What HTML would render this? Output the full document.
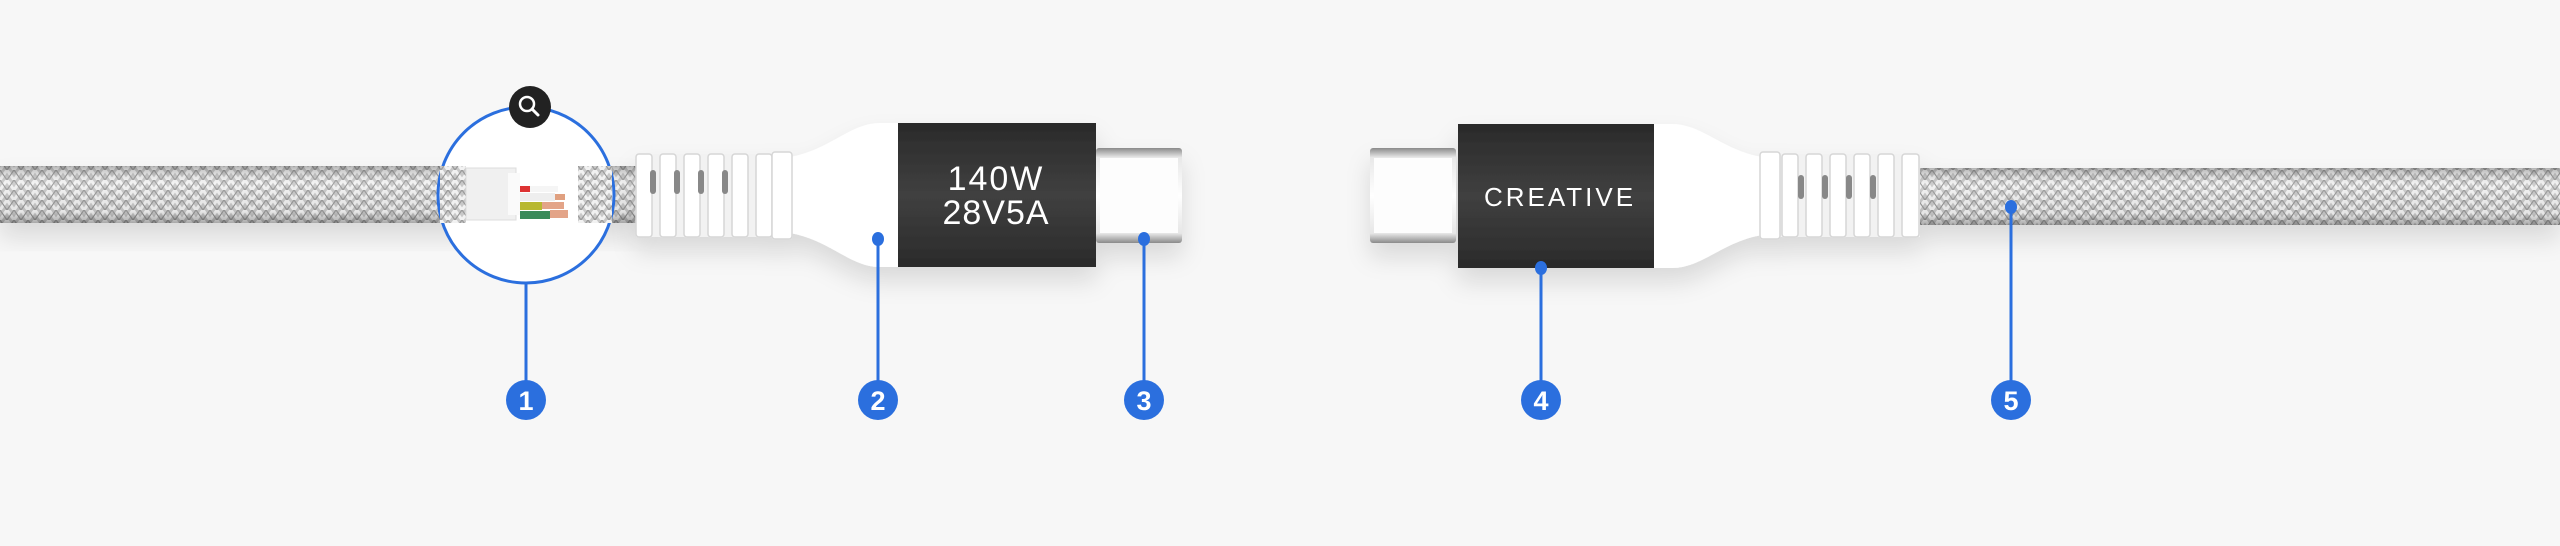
<!DOCTYPE html>
<html><head><meta charset="utf-8"><style>
html,body{margin:0;padding:0;background:#f7f7f7;}
svg{display:block}
</style></head><body>
<svg width="2560" height="546" viewBox="0 0 2560 546" xmlns="http://www.w3.org/2000/svg">
<defs>
<pattern id="braid" width="14" height="10" patternUnits="userSpaceOnUse">
<rect width="14" height="10" fill="#c8c8c8"/>
<path d="M0 10 L7 0 L14 10" stroke="#f2f2f2" stroke-width="3" fill="none"/>
<path d="M0 0 L7 10 L14 0" stroke="#999" stroke-width="1.2" fill="none"/>
</pattern>
<linearGradient id="cab" x1="0" y1="0" x2="0" y2="1">
<stop offset="0" stop-color="#000" stop-opacity="0.25"/>
<stop offset="0.3" stop-color="#fff" stop-opacity="0.1"/>
<stop offset="0.8" stop-color="#000" stop-opacity="0.05"/>
<stop offset="1" stop-color="#000" stop-opacity="0.3"/>
</linearGradient>
<linearGradient id="blk" x1="0" y1="0" x2="0" y2="1">
<stop offset="0" stop-color="#2a2a2a"/><stop offset="0.5" stop-color="#404040"/><stop offset="1" stop-color="#2a2a2a"/>
</linearGradient>
<linearGradient id="plug" x1="0" y1="0" x2="0" y2="1">
<stop offset="0" stop-color="#8a8a8a"/><stop offset="0.1" stop-color="#e8e8e8"/><stop offset="0.5" stop-color="#fff"/><stop offset="0.9" stop-color="#e6e6e6"/><stop offset="1" stop-color="#8a8a8a"/>
</linearGradient>
<filter id="sh" x="-10%" y="-30%" width="120%" height="180%"><feDropShadow dx="0" dy="14" stdDeviation="12" flood-color="#000" flood-opacity="0.12"/></filter>
</defs>

<g filter="url(#sh)">
<rect x="0" y="166" width="470" height="57" fill="url(#braid)"/>
<rect x="0" y="166" width="470" height="57" fill="url(#cab)"/>
<rect x="578" y="166" width="60" height="57" fill="url(#braid)"/>
<rect x="578" y="166" width="60" height="57" fill="url(#cab)"/>
</g>
<circle cx="526" cy="195" r="88" fill="#fff" stroke="#2b6fde" stroke-width="3"/>
<rect x="440" y="166" width="26" height="57" fill="url(#braid)"/>
<rect x="466" y="168" width="50" height="52" fill="#f0f0f0" stroke="#ddd"/>
<rect x="508" y="173" width="12" height="42" fill="#fafafa"/>
<rect x="520" y="186" width="10" height="6" fill="#d33"/><rect x="530" y="186" width="28" height="6" fill="#f5f5f5"/>
<rect x="520" y="193" width="35" height="8" fill="#eee"/><rect x="555" y="194" width="10" height="6" fill="#e0a080"/>
<rect x="520" y="202" width="22" height="8" fill="#b8b830"/><rect x="542" y="202" width="22" height="7" fill="#e3a488"/>
<rect x="520" y="211" width="30" height="8" fill="#3a8a5a"/><rect x="550" y="210" width="18" height="8" fill="#e3a488"/>
<rect x="578" y="166" width="34" height="57" fill="url(#braid)"/>
<circle cx="530" cy="107" r="21" fill="#222"/>
<circle cx="527" cy="104" r="7" fill="none" stroke="#fff" stroke-width="2.5"/>
<line x1="532" y1="109" x2="538" y2="115" stroke="#fff" stroke-width="3" stroke-linecap="round"/>

<g filter="url(#sh)">
<rect x="1096" y="148" width="86" height="95" rx="3" fill="url(#plug)"/>
<rect x="1100" y="158" width="78" height="75" fill="#fdfdfd"/>
<path d="M790 157 C830 150 850 123 880 123 L900 123 L900 267 L880 267 C850 267 830 240 790 233 Z" fill="#fff"/>
<rect x="636" y="154" width="156" height="83" fill="#f2f2f2"/>
<g fill="#fff" stroke="#d6d6d6" stroke-width="1.5">
<rect x="636" y="154" width="16" height="83" rx="3"/><rect x="660" y="154" width="16" height="83" rx="3"/><rect x="684" y="154" width="16" height="83" rx="3"/><rect x="708" y="154" width="16" height="83" rx="3"/><rect x="732" y="154" width="16" height="83" rx="3"/><rect x="756" y="154" width="16" height="83" rx="3"/><rect x="772" y="152" width="20" height="87" rx="3"/>
</g>
<g fill="#888"><rect x="650" y="170" width="6" height="24" rx="3"/><rect x="674" y="170" width="6" height="24" rx="3"/><rect x="698" y="170" width="6" height="24" rx="3"/><rect x="722" y="170" width="6" height="24" rx="3"/></g>
<rect x="898" y="123" width="198" height="144" fill="url(#blk)"/>
</g>
<text x="996" y="190" text-anchor="middle" font-family="Liberation Sans, sans-serif" font-size="34" fill="#fff" letter-spacing="2">140W</text>
<text x="996" y="224" text-anchor="middle" font-family="Liberation Sans, sans-serif" font-size="34" fill="#fff" letter-spacing="1">28V5A</text>

<g filter="url(#sh)">
<rect x="1370" y="148" width="86" height="95" rx="3" fill="url(#plug)"/>
<rect x="1374" y="158" width="78" height="75" fill="#fdfdfd"/>
<rect x="1919" y="168" width="641" height="57" fill="url(#braid)"/>
<rect x="1919" y="168" width="641" height="57" fill="url(#cab)"/>
<path d="M1762 157 C1722 150 1702 124 1672 124 L1652 124 L1652 268 L1672 268 C1702 268 1722 242 1762 235 Z" fill="#fff"/>
<rect x="1762" y="154" width="158" height="83" fill="#f2f2f2"/>
<g fill="#fff" stroke="#d6d6d6" stroke-width="1.5">
<rect x="1760" y="152" width="20" height="87" rx="3"/><rect x="1782" y="154" width="16" height="83" rx="3"/><rect x="1806" y="154" width="16" height="83" rx="3"/><rect x="1830" y="154" width="16" height="83" rx="3"/><rect x="1854" y="154" width="16" height="83" rx="3"/><rect x="1878" y="154" width="16" height="83" rx="3"/><rect x="1902" y="154" width="17" height="83" rx="3"/>
</g>
<g fill="#888"><rect x="1798" y="175" width="6" height="24" rx="3"/><rect x="1822" y="175" width="6" height="24" rx="3"/><rect x="1846" y="175" width="6" height="24" rx="3"/><rect x="1870" y="175" width="6" height="24" rx="3"/></g>
<rect x="1458" y="124" width="196" height="144" fill="url(#blk)"/>
</g>
<text x="1560" y="206" text-anchor="middle" font-family="Liberation Sans, sans-serif" font-size="26" fill="#fff" letter-spacing="3">CREATIVE</text>

<g stroke="#2b6fde" stroke-width="3" fill="#2b6fde">
<line x1="526" y1="283" x2="526" y2="400"/>
<line x1="878" y1="239" x2="878" y2="400"/><ellipse cx="878" cy="239" rx="6" ry="7" stroke="none"/>
<line x1="1144" y1="239" x2="1144" y2="400"/><ellipse cx="1144" cy="239" rx="6" ry="7" stroke="none"/>
<line x1="1541" y1="268" x2="1541" y2="400"/><ellipse cx="1541" cy="268" rx="6" ry="7" stroke="none"/>
<line x1="2011" y1="207" x2="2011" y2="400"/><ellipse cx="2011" cy="207" rx="6" ry="7" stroke="none"/>
</g>
<g fill="#2b6fde">
<circle cx="526" cy="400" r="20"/><circle cx="878" cy="400" r="20"/><circle cx="1144" cy="400" r="20"/><circle cx="1541" cy="400" r="20"/><circle cx="2011" cy="400" r="20"/>
</g>
<g fill="#fff" font-family="Liberation Sans, sans-serif" font-weight="bold" font-size="27" text-anchor="middle">
<text x="526" y="410">1</text><text x="878" y="410">2</text><text x="1144" y="410">3</text><text x="1541" y="410">4</text><text x="2011" y="410">5</text>
</g>
</svg>
</body></html>
